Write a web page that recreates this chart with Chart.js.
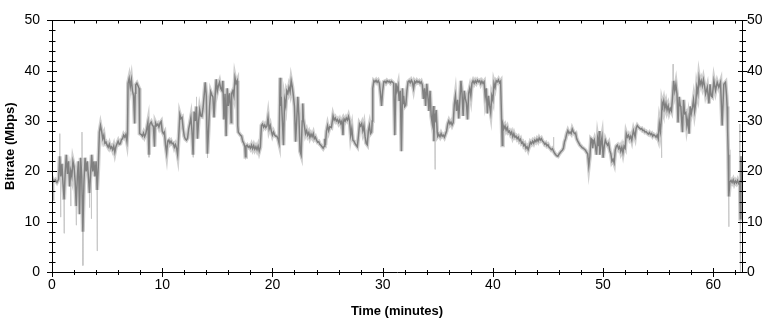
<!DOCTYPE html>
<html><head><meta charset="utf-8">
<script src="https://cdn.jsdelivr.net/npm/chart.js@4/dist/chart.umd.min.js"></script>
<style>html,body{margin:0;padding:0;background:#fff;}canvas{display:block;}</style>
</head><body>
<canvas id="c" width="775" height="322"></canvas>
<script>
// ---- data (minutes, Mbps) ----
const minutes = [
0,0.05,0.15,0.3,0.45,0.6,0.7,0.8,0.9,
1.0,1.1,1.2,1.3,1.4,1.5,1.6,1.7,1.8,1.9,
2.0,2.1,2.2,2.3,2.4,2.5,2.6,2.7,2.8,2.9,
3.0,3.1,3.2,3.3,3.4,3.5,3.6,3.7,3.8,3.9,
4.0,4.1,4.2,4.3,4.4,4.5,4.6,4.7,4.8,4.9,
5.0,5.1,5.2,5.3,5.4,5.5,5.6,5.7,5.8,5.9,
6.0,6.1,6.2,6.3,6.4,6.5,6.6,6.7,6.8,6.85,6.9,
7.0,7.1,7.2,7.3,7.4,7.5,7.55,7.6,7.7,7.8,7.9,7.95,
8.1,8.2,8.3,8.4,8.5,8.6,8.7,8.8,8.85,8.9,
9.0,9.1,9.2,9.3,9.35,9.4,9.5,9.6,9.7,9.8,9.9,
10.0,10.1,10.2,10.3,10.4,10.5,10.6,10.7,10.8,10.9,
11.0,11.1,11.2,11.3,11.4,11.5,11.6,11.7,11.8,11.9,
12.0,12.1,12.2,12.3,12.4,12.5,12.6,12.7,12.8,12.9,
13.0,13.1,13.2,13.3,13.4,13.5,13.6,13.7,13.8,13.9,
14.0,14.1,14.2,14.3,14.4,14.5,14.6,14.7,14.8,14.9,
15.0,15.1,15.2,15.3,15.4,15.5,15.6,15.7,15.8,15.9,
16.0,16.1,16.2,16.25,16.3,16.4,16.5,16.6,16.7,16.8,16.85,16.9,
17.0,17.1,17.2,17.3,17.4,17.5,17.55,17.6,17.7,17.8,17.9,
18.0,18.1,18.2,18.3,18.4,18.5,18.6,18.7,18.8,18.9,
19.0,19.1,19.2,19.3,19.4,19.5,19.6,19.7,19.8,19.9,
20.0,20.1,20.2,20.3,20.4,20.5,20.6,20.7,20.75,20.8,20.9,
21.0,21.1,21.2,21.3,21.4,21.5,21.6,21.7,21.8,21.9,
22.0,22.1,22.2,22.3,22.4,22.5,22.6,22.7,22.75,22.8,22.9,
23.0,23.1,23.2,23.3,23.4,23.5,23.6,23.7,23.8,23.9,
24.0,24.1,24.2,24.3,24.4,24.5,24.6,24.7,24.75,24.8,24.9,
25.0,25.1,25.2,25.35,25.5,25.6,25.7,25.8,25.9,
26.0,26.1,26.2,26.3,26.4,26.45,26.5,26.6,26.7,26.8,26.9,
27.0,27.1,27.2,27.3,27.4,27.5,27.6,27.7,27.8,27.9,
28.0,28.1,28.2,28.3,28.4,28.5,28.6,28.7,28.8,28.9,
29.0,29.05,29.1,29.2,29.3,29.4,29.5,29.6,29.7,29.8,29.9,
30.0,30.1,30.2,30.3,30.4,30.5,30.6,30.7,30.8,30.9,
31.0,31.1,31.2,31.3,31.4,31.5,31.6,31.7,31.8,31.85,31.9,
32.0,32.1,32.2,32.3,32.4,32.5,32.6,32.7,32.8,32.9,
33.0,33.1,33.2,33.3,33.4,33.5,33.6,33.7,33.8,33.9,
34.0,34.1,34.2,34.3,34.4,34.5,34.6,34.65,34.7,34.75,34.85,34.95,
35.0,35.1,35.2,35.3,35.4,35.5,35.6,35.7,35.8,35.9,
36.0,36.1,36.2,36.3,36.4,36.5,36.6,36.7,36.8,36.9,
37.0,37.1,37.2,37.3,37.4,37.5,37.6,37.7,37.8,37.9,
38.0,38.1,38.2,38.3,38.4,38.5,38.6,38.7,38.8,38.9,
39.0,39.1,39.2,39.3,39.4,39.5,39.6,39.7,39.8,39.9,
40.0,40.1,40.2,40.3,40.4,40.5,40.6,40.7,40.75,40.85,40.9,
41.0,41.1,41.2,41.3,41.4,41.5,41.6,41.7,41.8,41.9,
42.0,42.1,42.2,42.3,42.4,42.5,42.6,42.7,42.8,42.9,
43.0,43.1,43.2,43.3,43.4,43.5,43.6,43.7,43.8,43.9,
44.0,44.1,44.2,44.3,44.4,44.5,44.6,44.7,44.8,44.9,
45.0,45.1,45.2,45.3,45.4,45.5,45.6,45.7,45.8,45.9,
46.0,46.1,46.2,46.3,46.4,46.5,46.6,46.7,46.8,46.9,
47.0,47.1,47.2,47.3,47.4,47.5,47.6,47.7,47.8,47.9,
48.0,48.1,48.2,48.3,48.4,48.5,48.6,48.7,48.8,48.9,
49.0,49.05,49.1,49.2,49.3,49.4,49.5,49.6,49.65,49.7,49.8,49.9,
50.0,50.1,50.2,50.3,50.4,50.5,50.6,50.7,50.8,50.9,
51.0,51.1,51.2,51.3,51.4,51.5,51.6,51.7,51.8,51.9,
52.0,52.1,52.2,52.3,52.4,52.5,52.6,52.7,52.75,52.9,
53.0,53.1,53.2,53.3,53.4,53.5,53.6,53.7,53.8,53.9,
54.0,54.1,54.2,54.3,54.4,54.5,54.6,54.7,54.8,54.9,
55.0,55.1,55.2,55.3,55.35,55.4,55.5,55.6,55.7,55.8,55.9,
56.0,56.1,56.2,56.3,56.4,56.5,56.6,56.7,56.8,56.9,
57.0,57.05,57.1,57.2,57.3,57.4,57.5,57.6,57.7,57.8,57.9,
58.0,58.1,58.2,58.3,58.4,58.5,58.6,58.7,58.8,58.9,
59.0,59.1,59.2,59.3,59.45,59.6,59.7,59.8,59.9,
60.05,60.2,60.35,60.5,60.65,60.8,60.95,
61.1,61.2,61.25,61.3,61.35,61.4,61.5,61.6,61.7,61.8,61.9,
62.0,62.1,62.2,62.3,62.4,62.45,62.5,62.55,62.6
];
const bitrate = [
14.5,18.5,18.0,18.3,17.8,18.4,23.0,19.0,21.5,
17.5,14.4,20.0,23.3,19.5,22.0,17.0,20.1,19.0,22.0,
21.0,18.0,13.1,19.0,22.0,11.5,22.7,19.0,8.0,18.0,
22.7,20.0,22.0,19.0,15.7,19.5,23.3,20.0,22.0,19.0,
22.0,16.3,21.0,27.8,29.1,28.0,26.5,27.2,25.6,25.8,
25.2,24.8,25.4,24.6,24.9,24.3,25.0,23.8,24.9,25.5,
26.0,25.4,25.5,26.3,26.5,27.2,26.8,27.3,26.0,27.5,37.5,
38.5,36.8,38.2,36.0,35.0,29.5,35.5,37.2,37.5,37.0,36.5,27.5,
27.3,27.0,27.6,26.9,27.4,28.5,29.7,23.3,29.0,29.5,
29.8,29.2,28.9,24.9,29.0,29.6,29.1,29.4,28.8,29.6,29.9,
28.0,27.5,27.8,25.2,23.6,26.0,26.2,25.6,26.0,25.5,
25.6,24.8,25.3,24.6,23.3,27.0,31.3,30.5,30.7,28.5,
27.0,26.4,26.2,26.6,28.4,29.5,30.7,28.0,23.3,31.9,
30.0,32.9,26.5,30.0,32.2,31.0,30.9,32.5,35.0,37.7,
35.0,23.5,28.0,33.0,35.8,35.2,34.8,30.7,35.0,38.3,
36.0,37.0,37.7,36.5,36.1,38.0,30.3,35.4,27.0,36.5,
33.0,35.5,32.9,29.7,35.5,36.0,35.0,38.6,37.5,38.0,29.1,27.8,
27.5,27.2,27.0,26.0,25.6,24.9,22.9,25.0,25.2,24.8,25.0,
24.6,25.2,24.5,25.1,24.4,24.9,24.3,25.0,24.0,24.8,
29.1,29.4,28.8,29.2,28.7,29.0,30.7,28.4,29.1,28.0,
27.2,27.8,27.2,27.0,27.0,26.5,25.6,38.6,33.0,34.8,30.0,
25.2,34.2,33.0,36.0,35.5,36.7,35.8,38.0,36.8,35.0,
32.9,25.9,30.0,34.8,31.0,24.0,23.3,30.0,33.5,30.5,29.0,
27.5,28.1,27.2,27.7,26.8,27.4,26.9,27.5,26.5,26.8,
26.2,25.8,25.9,25.4,25.2,24.9,24.6,25.0,26.5,25.2,28.0,
29.1,28.1,28.9,28.7,31.0,30.2,30.6,30.0,30.3,
29.7,30.2,29.5,30.0,27.2,29.8,30.4,30.0,30.6,30.2,30.9,
30.0,27.2,28.5,26.2,26.0,25.5,25.2,24.9,27.0,29.4,
29.0,29.5,28.1,29.1,27.0,25.6,25.3,28.0,29.1,27.5,
27.8,30.0,36.5,38.0,37.8,38.1,37.7,38.0,37.5,35.4,33.0,
36.0,37.8,37.9,37.6,38.0,37.8,37.9,37.6,37.9,37.7,
37.5,27.2,37.5,36.0,37.0,34.0,36.0,24.0,36.5,33.5,35.0,
32.9,33.2,36.0,37.8,38.0,37.6,38.1,37.7,36.5,37.9,
37.6,38.0,37.7,37.9,37.5,37.8,37.2,34.4,36.5,33.0,
37.4,35.0,32.0,36.0,31.0,29.5,33.0,26.0,31.5,29.7,32.2,27.8,
27.0,27.3,26.9,27.5,27.0,27.2,26.8,27.4,28.0,29.4,
30.0,29.4,29.8,29.2,29.7,33.3,35.0,32.0,34.2,30.5,
34.0,38.0,35.5,31.0,36.0,34.5,33.5,30.3,35.5,36.5,
35.0,37.5,38.0,37.5,38.0,37.6,38.1,37.8,38.0,37.4,
37.9,37.5,37.8,34.8,36.5,31.5,35.0,33.0,31.6,35.0,
34.2,37.5,36.7,38.0,37.8,38.2,37.6,37.9,33.5,25.2,29.4,
28.5,29.0,28.2,28.7,27.8,28.0,27.4,27.8,26.9,27.5,
26.8,27.0,26.5,26.8,26.1,26.4,25.6,25.8,25.1,25.4,
24.6,24.9,24.3,25.0,25.8,25.5,26.0,25.6,26.2,25.9,
26.4,26.0,26.6,26.2,26.5,26.0,25.8,25.4,25.6,25.1,
25.3,24.8,24.6,24.3,24.5,24.0,23.6,23.3,23.1,23.0,
23.4,23.7,24.0,24.2,24.6,25.9,26.5,27.5,28.1,27.6,
27.8,27.5,28.4,27.9,27.5,27.6,26.5,26.0,25.6,25.2,
25.0,24.7,24.6,24.4,24.2,23.8,23.5,21.1,23.0,26.5,
26.3,24.6,25.5,26.2,25.0,23.3,26.5,25.0,28.0,23.3,25.5,26.8,
22.7,25.0,26.2,25.6,25.2,25.6,24.2,23.5,22.0,22.4,
21.7,24.2,25.0,25.2,24.5,24.9,24.0,24.8,23.7,25.0,
24.6,27.5,26.8,27.2,26.5,27.0,26.2,27.5,28.1,26.9,
28.6,29.1,28.8,28.6,28.4,28.5,28.1,28.2,27.8,27.9,
27.6,27.4,27.7,27.3,27.5,27.0,27.3,27.1,26.8,27.2,
26.5,29.5,28.0,31.0,33.5,33.0,34.0,32.5,33.5,32.2,33.0,
31.8,32.5,32.0,34.8,38.0,36.0,37.3,35.4,29.7,34.8,
33.0,32.9,31.0,27.8,34.2,31.5,31.7,29.1,30.5,27.5,32.9,
31.5,32.6,34.2,32.0,33.5,36.7,35.5,38.6,37.2,38.0,
37.0,38.2,37.0,35.4,36.7,33.5,37.3,35.0,34.8,
38.0,36.1,37.7,36.7,37.7,29.1,37.3,
37.7,35.0,32.9,28.0,23.3,15.0,17.9,18.2,17.8,18.3,17.6,
18.1,17.7,18.2,17.6,18.0,10.6,23.0,17.9,18.2
];
// light-grey outlier excursions of the raw trace
const spikeMinutes = [0.02,0.7,0.78,1.1,1.7,2.2,2.72,2.8,3.4,3.57,4.1,4.4,8.8,12.8,13.1,14.1,17.55,22.6,34.75,45.5,48.7,55.3,56.35,61.4,61.5,62.4,62.45];
const spikePeaks   = [10.0,27.5,10.9,7.7,13.1,9.3,27.8,1.3,12.8,10.6,4.2,30.2,22.8,22.8,34.8,22.7,22.4,22.5,20.4,26.8,20.8,22.7,41.3,9.0,24.3,29.4,0.0];
const spikeBases   = [16.0,21.0,20.0,16.0,19.0,15.0,21.0,10.0,17.0,20.0,17.0,29.0,25.0,25.0,32.0,25.0,24.0,24.0,28.0,24.2,22.0,28.0,36.0,16.0,19.0,19.0,12.0];

const xMajorTicks = [0,10,20,30,40,50,60];
const yMajorTicks = [0,10,20,30,40,50];
const xMax = 62.6, yMax = 50, minorStep = 2;

const FONT = '"Liberation Sans", Arial, Helvetica, sans-serif';

const tracePoints = minutes.map((m, i) => ({x: m, y: bitrate[i]}));
const spikePoints = [];
spikeMinutes.forEach((m, i) => {
  spikePoints.push({x: m - 0.02, y: spikeBases[i]});
  spikePoints.push({x: m, y: spikePeaks[i]});
  spikePoints.push({x: m + 0.02, y: spikeBases[i]});
  spikePoints.push({x: m + 0.021, y: null});
});

const framePlugin = {
  id: 'frame',
  afterDatasetsDraw(chart) {
    const {ctx, chartArea: a, scales} = chart;
    const L = Math.round(a.left) + 0.5, R = Math.round(a.right) + 0.5;
    const T = Math.round(a.top) + 0.5, B = Math.round(a.bottom) + 0.5;
    ctx.save();
    ctx.strokeStyle = '#000';
    ctx.lineWidth = 1;
    ctx.beginPath();
    ctx.rect(L, T, R - L, B - T);
    for (let v = 0; v <= xMax + 1e-9; v += minorStep) {
      const major = xMajorTicks.includes(v);
      const px = Math.round(scales.x.getPixelForValue(v)) + 0.5;
      ctx.moveTo(px, B - (major ? 4.5 : 2.5)); ctx.lineTo(px, B + (major ? 4.5 : 2.5));
      ctx.moveTo(px, T); ctx.lineTo(px, T + (major ? 4 : 3));
    }
    for (let v = 0; v <= yMax + 1e-9; v += minorStep) {
      const major = yMajorTicks.includes(v);
      const py = Math.round(scales.y.getPixelForValue(v)) + 0.5;
      ctx.moveTo(L - (major ? 5.5 : 3.5), py); ctx.lineTo(L + (major ? 4.5 : 3), py);
      ctx.moveTo(R - (major ? 4.5 : 3), py); ctx.lineTo(R + (major ? 5 : 3.5), py);
    }
    ctx.stroke();
    ctx.restore();
  }
};

const tickFont = {family: FONT, size: 14};
const titleFont = {family: FONT, size: 13, weight: 'bold'};

new Chart(document.getElementById('c'), {
  type: 'line',
  data: {
    datasets: [
      {label: 'Bitrate', data: tracePoints, borderColor: '#808080', borderWidth: 1.5, pointRadius: 0, tension: 0, fill: false},
      {label: 'Raw excursions', data: spikePoints, borderColor: '#c8c8c8', borderWidth: 1, pointRadius: 0, tension: 0, spanGaps: false, fill: false},
      {label: 'Raw band', data: tracePoints, borderColor: '#cfcfcf', borderWidth: 4, pointRadius: 0, tension: 0, fill: false}
    ]
  },
  options: {
    responsive: false,
    animation: false,
    devicePixelRatio: 1,
    parsing: false,
    normalized: true,
    layout: {padding: 0},
    plugins: {legend: {display: false}, tooltip: {enabled: false}},
    scales: {
      x: {
        type: 'linear', position: 'bottom', min: 0, max: xMax,
        afterBuildTicks: s => { s.ticks = xMajorTicks.map(v => ({value: v})); },
        ticks: {font: tickFont, color: '#000', padding: 5, maxRotation: 0, autoSkip: false},
        grid: {display: false, drawTicks: false},
        border: {display: false},
        title: {display: true, text: 'Time (minutes)', font: titleFont, color: '#000', padding: {top: 0, bottom: 3}},
        afterFit: s => { s.height = 50; }
      },
      xTop: {
        type: 'linear', position: 'top', min: 0, max: xMax,
        ticks: {display: false},
        grid: {display: false, drawTicks: false},
        border: {display: false},
        afterFit: s => { s.height = 10; }
      },
      y: {
        type: 'linear', position: 'left', min: 0, max: yMax,
        afterBuildTicks: s => { s.ticks = yMajorTicks.map(v => ({value: v})); },
        ticks: {font: tickFont, color: '#000', padding: 12},
        grid: {display: false, drawTicks: false},
        border: {display: false},
        title: {display: true, text: 'Bitrate (Mbps)', font: titleFont, color: '#000', padding: {top: 3, bottom: 0}},
        afterFit: s => { s.width = 52; }
      },
      y2: {
        type: 'linear', position: 'right', min: 0, max: yMax,
        afterBuildTicks: s => { s.ticks = yMajorTicks.map(v => ({value: v})); },
        ticks: {font: tickFont, color: '#000', padding: 5},
        grid: {display: false, drawTicks: false},
        border: {display: false},
        afterFit: s => { s.width = 33; }
      }
    }
  },
  plugins: [framePlugin]
});
if (minutes.length !== bitrate.length) console.error('length mismatch', minutes.length, bitrate.length);
</script>
</body></html>
